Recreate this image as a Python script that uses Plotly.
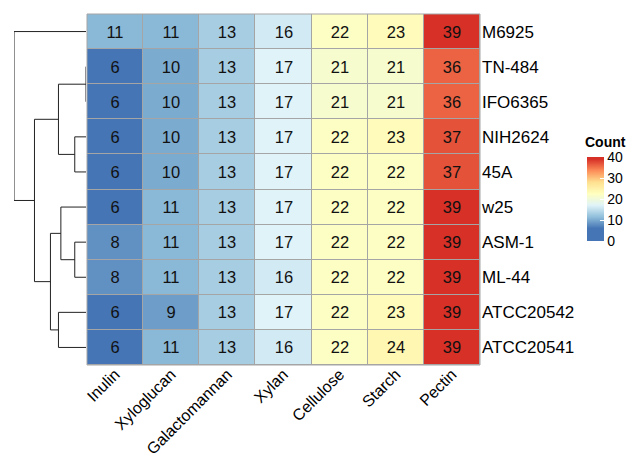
import numpy as np
import plotly.graph_objects as go

# ---- data -------------------------------------------------------------
substrates = ["Inulin", "Xyloglucan", "Galactomannan", "Xylan",
              "Cellulose", "Starch", "Pectin"]
strains = ["M6925", "TN-484", "IFO6365", "NIH2624", "45A",
           "w25", "ASM-1", "ML-44", "ATCC20542", "ATCC20541"]

M6925 = [11, 11, 13, 16, 22, 23, 39]
TN484 = [6, 10, 13, 17, 21, 21, 36]
IFO6365 = [6, 10, 13, 17, 21, 21, 36]
NIH2624 = [6, 10, 13, 17, 22, 23, 37]
A45 = [6, 10, 13, 17, 22, 22, 37]
W25 = [6, 11, 13, 17, 22, 22, 39]
ASM1 = [8, 11, 13, 17, 22, 22, 39]
ML44 = [8, 11, 13, 16, 22, 22, 39]
ATCC20542 = [6, 9, 13, 17, 22, 23, 39]
ATCC20541 = [6, 11, 13, 16, 22, 24, 39]

counts = [M6925, TN484, IFO6365, NIH2624, A45,
          W25, ASM1, ML44, ATCC20542, ATCC20541]

# row clustering topology (complete linkage, Euclidean)
row_tree = ("M6925",
            ((("TN-484", "IFO6365"), ("NIH2624", "45A")),
             (("w25", ("ASM-1", "ML-44")), ("ATCC20542", "ATCC20541"))))

legend_ticks = [0, 10, 20, 30, 40]

# RdYlBu (7), reversed
palette = ["#4575B4", "#91BFDB", "#E0F3F8", "#FFFFBF",
           "#FEE090", "#FC8D59", "#D73027"]

# ---- colour scale: palette spans data min..max, legend spans 0..40 ----
Z = np.array(counts, dtype=float)
zmin, zmax = Z.min(), Z.max()
lo, hi = legend_ticks[0], legend_ticks[-1]
colorscale = [[0.0, palette[0]]]
for k, c in enumerate(palette):
    v = zmin + k * (zmax - zmin) / (len(palette) - 1)
    colorscale.append([(v - lo) / (hi - lo), c])
colorscale.append([1.0, palette[-1]])

# ---- dendrogram from the tree -----------------------------------------
row_index = {s: i for i, s in enumerate(strains)}
vec = {s: Z[i] for i, s in enumerate(strains)}


def leaves(node):
    return [node] if isinstance(node, str) else leaves(node[0]) + leaves(node[1])


def merge_height(node):
    a, b = leaves(node[0]), leaves(node[1])
    return max(np.linalg.norm(vec[p] - vec[q]) for p in a for q in b)


seg_x, seg_y = [], []


def walk(node):
    """Return (height, y) of node and record its segments."""
    if isinstance(node, str):
        return 0.0, float(row_index[node])
    hl, yl = walk(node[0])
    hr, yr = walk(node[1])
    h = merge_height(node)
    seg_x.extend([hl, h, h, hr, None])
    seg_y.extend([yl, yl, yr, yr, None])
    return h, (yl + yr) / 2


root_h, _ = walk(row_tree)

# ---- layout geometry --------------------------------------------------
W, H = 629, 460
hm_x = [87 / W, 480 / W]
hm_y = [1 - 365 / H, 1 - 14 / H]
dn_x = [14 / W, 86 / W]

cb_top, cb_bot = 157, 241
cb_len = (cb_bot - cb_top) / H
cb_y = 1 - (cb_top + cb_bot) / 2 / H
cb_x0 = 586.5 / W
cb_thick = 17

FONT = "Liberation Sans, Arial, sans-serif"

fig = go.Figure()

fig.add_trace(go.Heatmap(
    z=counts,
    x=list(range(len(substrates))),
    y=list(range(len(strains))),
    zmin=lo, zmax=hi,
    colorscale=colorscale,
    xgap=1, ygap=1,
    texttemplate="%{z}",
    textfont=dict(family=FONT, size=16.5, color="#111111"),
    hoverinfo="skip",
    colorbar=dict(
        tickvals=legend_ticks,
        ticks="inside", ticklen=4, tickcolor="white", tickwidth=1,
        tickfont=dict(family=FONT, size=14, color="black"),
        thickness=cb_thick, thicknessmode="pixels",
        len=cb_len, lenmode="fraction",
        x=cb_x0, xanchor="left", xpad=0,
        y=cb_y, yanchor="middle", ypad=0,
        outlinewidth=0,
    ),
))

fig.add_trace(go.Scatter(
    x=seg_x, y=seg_y, mode="lines",
    line=dict(color="#222222", width=1),
    xaxis="x2", yaxis="y",
    hoverinfo="skip", showlegend=False,
))

# colour bar title
fig.add_annotation(text="<b>Count</b>", xref="paper", yref="paper",
                   x=584.5 / W, y=1 - 141.5 / H, xanchor="left", yanchor="middle",
                   showarrow=False, borderpad=0, borderwidth=0,
                   font=dict(family=FONT, size=14, color="black"))

# white ticks on the left side of the colour bar
for v in legend_ticks:
    yy = cb_y - cb_len / 2 + (v - lo) / (hi - lo) * cb_len
    fig.add_shape(type="line", xref="paper", yref="paper",
                  x0=cb_x0, x1=cb_x0 + 4 / W, y0=yy, y1=yy,
                  line=dict(color="white", width=1), layer="above")

# grey cell borders: background behind the bricks plus an outer frame
fig.add_shape(type="rect", xref="x domain", yref="y domain",
              x0=0, x1=1, y0=0, y1=1, layer="below",
              fillcolor="#A5A5A5", line=dict(width=0))
fig.add_shape(type="rect", xref="x domain", yref="y domain",
              x0=0, x1=1, y0=0, y1=1, layer="above",
              fillcolor="rgba(0,0,0,0)", line=dict(color="#A5A5A5", width=1))

fig.update_layout(
    width=W, height=H,
    margin=dict(l=0, r=0, t=0, b=0, autoexpand=False),
    paper_bgcolor="white", plot_bgcolor="white",
    font=dict(family=FONT, color="black"),
    xaxis=dict(domain=hm_x, anchor="y", range=[-0.5, len(substrates) - 0.5],
               tickvals=list(range(len(substrates))), ticktext=substrates,
               tickangle=-45, tickfont=dict(family=FONT, size=16),
               ticklabelstandoff=-4, automargin=False,
               showgrid=False, zeroline=False, ticks="", showline=False),
    yaxis=dict(domain=hm_y, anchor="x", range=[len(strains) - 0.5, -0.5],
               tickvals=list(range(len(strains))), ticktext=strains,
               side="right", tickfont=dict(family=FONT, size=17),
               ticklabelstandoff=1, automargin=False,
               showgrid=False, zeroline=False, ticks="", showline=False),
    xaxis2=dict(domain=dn_x, anchor="y", range=[root_h, 0],
                visible=False, showgrid=False, zeroline=False),
)

fig.write_html("out.html")
